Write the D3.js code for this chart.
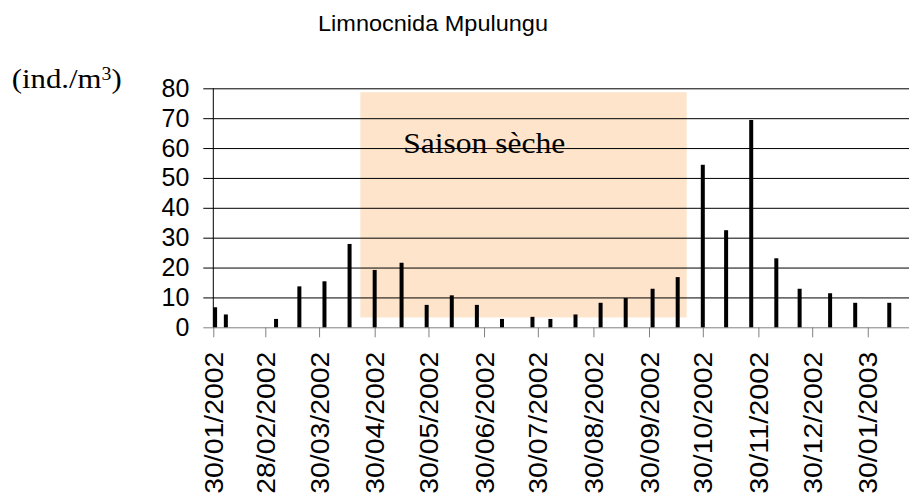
<!DOCTYPE html>
<html>
<head>
<meta charset="utf-8">
<script src="https://cdn.jsdelivr.net/npm/d3@7"></script>
<style>
  body { margin: 0; background: #fff; }
  svg { display: block; }
</style>
</head>
<body>
<div id="chart"></div>
<script>
// sampling dates and densities (ind./m3)
const dates = [
  "2002-01-31", "2002-02-06", "2002-03-06", "2002-03-19", "2002-04-02",
  "2002-04-16", "2002-04-30", "2002-05-15", "2002-05-29", "2002-06-12",
  "2002-06-26", "2002-07-10", "2002-07-27", "2002-08-06", "2002-08-20",
  "2002-09-03", "2002-09-17", "2002-10-02", "2002-10-16", "2002-10-30",
  "2002-11-12", "2002-11-26", "2002-12-10", "2002-12-23", "2003-01-09",
  "2003-01-23", "2003-02-11"
];
const values = [
  6.7, 4.3, 2.8, 13.7, 15.4,
  27.9, 19.2, 21.6, 7.5, 10.7,
  7.5, 2.8, 3.5, 2.8, 4.3,
  8.2, 9.8, 12.9, 16.8, 54.4,
  32.5, 69.4, 23.1, 12.9, 11.4,
  8.2, 8.2
];
const tickDates = [
  "2002-01-30", "2002-02-28", "2002-03-30", "2002-04-30", "2002-05-30",
  "2002-06-30", "2002-07-30", "2002-08-30", "2002-09-30", "2002-10-30",
  "2002-11-30", "2002-12-30", "2003-01-30"
];
const yTicks = [0, 10, 20, 30, 40, 50, 60, 70, 80];
// dry season box (dates / values)
const drySeason = { from: "2002-04-22", to: "2002-10-21", low: 3.3, high: 78.7, label: "Saison sèche" };
const title = "Limnocnida Mpulungu";

const parse = d3.utcParse("%Y-%m-%d");
const fmt = d3.utcFormat("%d/%m/%Y");
const data = dates.map((d, i) => ({ date: parse(d), value: values[i] }));

const W = 909, H = 501;
const svg = d3.select("#chart").append("svg")
    .attr("width", W).attr("height", H);

const x = d3.scaleUtc()
    .domain([parse("2002-01-30"), parse("2003-02-22")])
    .range([213.3, 909]);
const y = d3.scaleLinear()
    .domain([0, 80])
    .range([327.3, 88.3]);

// title
svg.append("text")
    .attr("x", 433).attr("y", 30.7)
    .attr("text-anchor", "middle")
    .attr("font-family", "'Liberation Sans', Arial, sans-serif")
    .attr("font-size", 22)
    .attr("textLength", 230)
    .attr("lengthAdjust", "spacingAndGlyphs")
    .text(title);

// unit label
let unit = svg.append("text")
    .attr("x", 11.7).attr("y", 88.3)
    .attr("font-family", "'Liberation Serif', 'Times New Roman', serif")
    .attr("font-size", 28)
    .attr("textLength", 110)
    .attr("lengthAdjust", "spacingAndGlyphs")
    .attr("fill", "#000");
unit.append("tspan").text("(ind./m");
unit.append("tspan").attr("font-size", 18).attr("dy", -8.3).text("3");
unit.append("tspan").attr("dy", 8.3).text(")");

// dry season box
svg.append("rect")
    .attr("x", x(parse(drySeason.from)))
    .attr("y", y(drySeason.high))
    .attr("width", x(parse(drySeason.to)) - x(parse(drySeason.from)))
    .attr("height", y(drySeason.low) - y(drySeason.high))
    .attr("fill", "#fde4cb");

svg.append("text")
    .attr("x", 403.3).attr("y", 153.3)
    .attr("font-family", "'Liberation Serif', 'Times New Roman', serif")
    .attr("font-size", 30)
    .attr("textLength", 162)
    .attr("lengthAdjust", "spacingAndGlyphs")
    .text(drySeason.label);

// gridlines + y labels
svg.append("g")
    .attr("transform", "translate(213.3,0)")
    .call(d3.axisLeft(y).tickValues(yTicks).tickSize(10).tickPadding(14).tickFormat(d3.format("d")))
    .call(g => g.select(".domain").remove())
    .call(g => g.selectAll(".tick line").attr("stroke", "#000").attr("x2", 909 - 213.3).attr("x1", -10))
    .call(g => g.selectAll(".tick").filter(d => d === 0).select("line").attr("stroke", "#808080"))
    .call(g => g.selectAll("text")
        .attr("font-family", "'Liberation Sans', Arial, sans-serif")
        .attr("font-size", 25)
        .attr("fill", "#000"));

// y axis line
svg.append("line")
    .attr("x1", 213.3).attr("x2", 213.3)
    .attr("y1", y(80)).attr("y2", y(0))
    .attr("stroke", "#000");

// x axis
svg.append("g")
    .attr("transform", "translate(0," + y(0) + ")")
    .call(d3.axisBottom(x).tickValues(tickDates.map(parse)).tickSize(10).tickSizeOuter(0).tickFormat(fmt))
    .call(g => g.select(".domain").remove())
    .call(g => g.selectAll(".tick line").attr("stroke", "#808080"))
    .call(g => g.selectAll("text")
        .attr("font-family", "'Liberation Sans', Arial, sans-serif")
        .attr("font-size", 26)
        .attr("fill", "#000")
        .attr("text-anchor", "end")
        .attr("textLength", 142)
        .attr("lengthAdjust", "spacingAndGlyphs")
        .attr("transform", "rotate(-90)")
        .attr("x", -24.4)
        .attr("y", 0)
        .attr("dy", "0.35em"));

// bars
svg.append("g")
    .selectAll("rect")
    .data(data)
    .join("rect")
    .attr("x", d => x(d.date) - 2)
    .attr("width", 4)
    .attr("y", d => y(d.value))
    .attr("height", d => y(0) - y(d.value))
    .attr("fill", "#000");
</script>
</body>
</html>
